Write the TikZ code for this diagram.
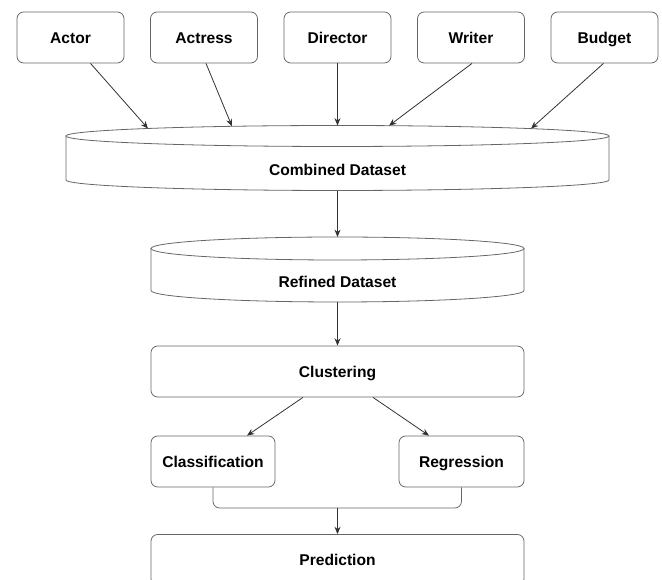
\documentclass[tikz,border=0pt]{standalone}
\usepackage{fontspec}
\setmainfont{Liberation Sans}
\usetikzlibrary{arrows.meta,calc}

\tikzset{
    box/.style={draw=black!60, line width=0.6pt, rounded corners=5pt, inner sep=0pt,
        minimum height=38.25pt, text height=8.4pt, text depth=0pt,
        font=\bfseries\fontsize{11.7}{13.5}\selectfont},
    tag/.style={inner sep=0pt, text height=8.4pt, text depth=0pt,
        font=\bfseries\fontsize{11.7}{13.5}\selectfont},
    drum/.style={draw=black!60, line width=0.6pt},
    flow/.style={draw=black!80, line width=0.6pt, -{Stealth[length=5.5pt,width=4.5pt]}},
}

\begin{document}
\begin{tikzpicture}[x=0.75pt, y=-0.75pt]
    \useasboundingbox (0,0) rectangle (662,580);

    \foreach \name/\txt/\x in {actor/Actor/70.5, actress/Actress/204, director/Director/337.5,
                               writer/Writer/471, budget/Budget/604.5} {
        \node[box, minimum width=80.25pt] (\name) at (\x,37.5) {\txt};
    }

    \draw[drum] (66,136) -- (66,180) arc (180:0:271.5 and 10.5) -- (609,136);
    \draw[drum] (337.5,136) ellipse (271.5 and 10.5);
    \node[tag] (combined) at (337.5,170) {Combined Dataset};

    \draw[drum] (151,248.5) -- (151,290.5) arc (180:0:186.5 and 11.5) -- (524,248.5);
    \draw[drum] (337.5,248.5) ellipse (186.5 and 11.5);
    \node[tag] (refined) at (337.5,282) {Refined Dataset};

    \coordinate (in-actor) at (148,128.5);
    \coordinate (in-actress) at (232,126.3);
    \coordinate (in-director) at (337.5,125.5);
    \coordinate (in-writer) at (389,125.7);
    \coordinate (in-budget) at (531,128.6);
    \coordinate (combined-out) at (337.5,191);
    \coordinate (refined-in) at (337.5,237);
    \coordinate (refined-out) at (337.5,302);

    \node[box, minimum width=279.75pt] (clustering) at (337.5,371.5) {Clustering};
    \node[box, minimum width=93pt] (classification) at (213,461.5) {Classification};
    \node[box, minimum width=93.75pt] (regression) at (461.5,461.5) {Regression};
    \node[box, minimum width=279.75pt] (prediction) at (337.5,560) {Prediction};
    \coordinate (merge) at (337.5,508);

    \draw[flow] ($(actor.south)+(20,0)$) -- (in-actor);
    \draw[flow] ($(actress.south)+(2,0)$) -- (in-actress);
    \draw[flow] (director.south) -- (in-director);
    \draw[flow] ($(writer.south)+(1,0)$) -- (in-writer);
    \draw[flow] ($(budget.south)+(-1,0)$) -- (in-budget);
    \draw[flow] (combined-out) -- (refined-in);
    \draw[flow] (refined-out) -- (clustering.north);
    \draw[flow] ($(clustering.south)+(-34.5,0)$) -- ($(classification.north)+(34,0)$);
    \draw[flow] ($(clustering.south)+(35.5,0)$) -- ($(regression.north)+(-32.5,0)$);
    \draw[drum, rounded corners=5pt] (classification.south) |- (merge) -| (regression.south);
    \draw[flow] (merge) -- (prediction.north);
\end{tikzpicture}
\end{document}
